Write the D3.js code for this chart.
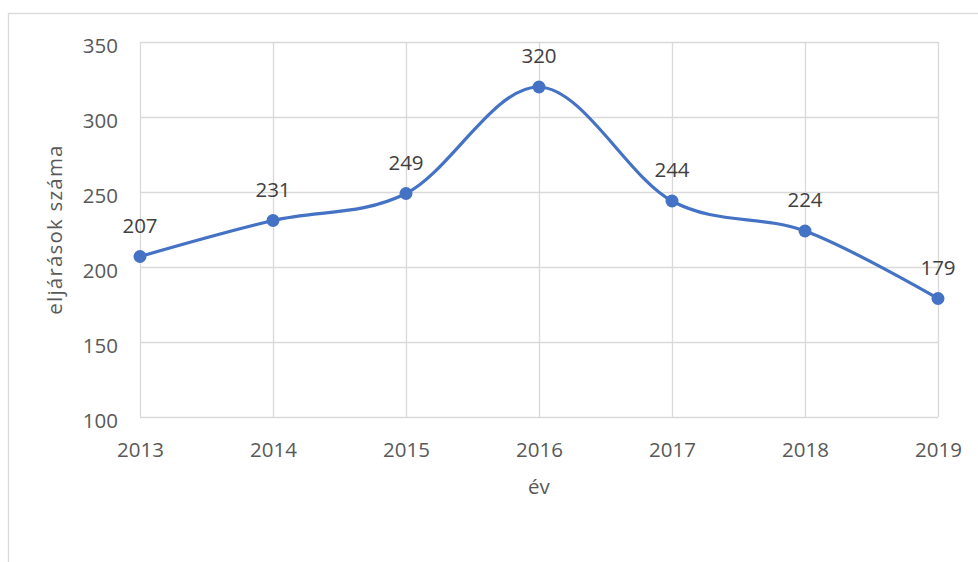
<!DOCTYPE html>
<html>
<head>
<meta charset="utf-8">
<script src="https://cdn.jsdelivr.net/npm/d3@7"></script>
<style>
  body { margin: 0; background: #fff; }
  text { font-family: "Open Sans", "Noto Sans", sans-serif; }
</style>
</head>
<body>
<script>
// adatok
let years = ["2013", "2014", "2015", "2016", "2017", "2018", "2019"];
let counts = [207, 231, 249, 320, 244, 224, 179];
let yTicks = [100, 150, 200, 250, 300, 350];

let W = 978, H = 562;
let margin = {top: 42, right: 40, bottom: 145, left: 140},
    width = 938 - margin.left,
    height = 417 - margin.top;
let fs = "20.5px";

let svg = d3.select("body").append("svg")
    .attr("width", W)
    .attr("height", H);

// outer chart border
svg.append("rect")
    .attr("x", 8.5).attr("y", 13.5)
    .attr("width", 980).attr("height", 560)
    .attr("fill", "none")
    .attr("stroke", "#d9d9d9")
    .attr("stroke-width", 1.3);

let g = svg.append("g")
    .attr("transform", "translate(" + margin.left + "," + margin.top + ")");

let x = d3.scalePoint().domain(years).range([0, width]);
let y = d3.scaleLinear().domain([100, 350]).range([height, 0]);

// grid
g.append("g")
    .call(d3.axisLeft(y).tickValues(yTicks).tickSize(-width).tickFormat(""))
    .call(a => a.select(".domain").remove())
    .call(a => a.selectAll("line").attr("stroke", "#d9d9d9").attr("stroke-width", 1.3));

g.append("g")
    .attr("transform", "translate(0," + height + ")")
    .call(d3.axisBottom(x).tickSize(-height).tickFormat(""))
    .call(a => a.select(".domain").remove())
    .call(a => a.selectAll("line").attr("stroke", "#d9d9d9").attr("stroke-width", 1.3));

// y tick labels
g.append("g")
    .call(d3.axisLeft(y).tickValues(yTicks).tickSize(0).tickPadding(22))
    .call(a => a.select(".domain").remove())
    .call(a => a.selectAll("text")
        .attr("fill", "#595959")
        .style("font-size", fs)
        .style("font-family", "'Open Sans', sans-serif")
        .attr("dy", "0.5em"));

// x tick labels
g.append("g")
    .attr("transform", "translate(0," + height + ")")
    .call(d3.axisBottom(x).tickSize(0).tickPadding(25))
    .call(a => a.select(".domain").remove())
    .call(a => a.selectAll("text")
        .attr("fill", "#595959")
        .style("font-size", fs)
        .style("font-family", "'Open Sans', sans-serif"));

// axis titles
svg.append("text")
    .attr("x", margin.left + width / 2)
    .attr("y", 494)
    .attr("text-anchor", "middle")
    .attr("fill", "#595959")
    .style("font-size", fs)
    .text("év");

svg.append("text")
    .attr("transform", "translate(62," + (margin.top + height / 2) + ") rotate(-90)")
    .attr("text-anchor", "middle")
    .attr("fill", "#595959")
    .style("font-size", fs)
    .style("letter-spacing", "1.2px")
    .text("eljárások száma");

let data = years.map((d, i) => ({year: d, count: counts[i]}));

// smooth line
let line = d3.line()
    .x(d => x(d.year))
    .y(d => y(d.count))
    .curve(d3.curveCardinal.tension(0));

g.append("path")
    .datum(data)
    .attr("fill", "none")
    .attr("stroke", "#4472c4")
    .attr("stroke-width", 3.2)
    .attr("stroke-linecap", "round")
    .attr("d", line);

g.selectAll(".dot")
    .data(data)
    .enter().append("circle")
    .attr("class", "dot")
    .attr("cx", d => x(d.year))
    .attr("cy", d => y(d.count))
    .attr("r", 6.5)
    .attr("fill", "#4472c4");

// data labels
g.selectAll(".lbl")
    .data(data)
    .enter().append("text")
    .attr("class", "lbl")
    .attr("x", d => x(d.year))
    .attr("y", d => y(d.count) - 24)
    .attr("text-anchor", "middle")
    .attr("fill", "#404040")
    .style("font-size", fs)
    .text(d => d.count);
</script>
</body>
</html>
